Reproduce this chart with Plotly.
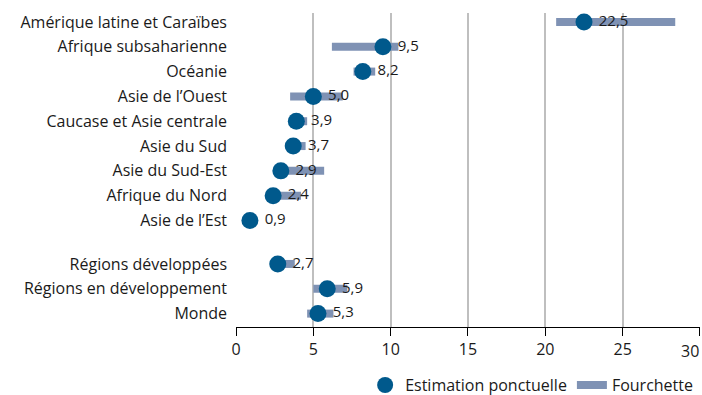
import plotly.graph_objects as go

# Regions (top to bottom), point estimates and uncertainty ranges
regions = [
    "Amérique latine et Caraïbes",
    "Afrique subsaharienne",
    "Océanie",
    "Asie de l’Ouest",
    "Caucase et Asie centrale",
    "Asie du Sud",
    "Asie du Sud-Est",
    "Afrique du Nord",
    "Asie de l’Est",
    "Régions développées",
    "Régions en développement",
    "Monde",
]
estimates = [22.5, 9.5, 8.2, 5.0, 3.9, 3.7, 2.9, 2.4, 0.9, 2.7, 5.9, 5.3]
range_low = [20.7, 6.2, 7.6, 3.5, 3.5, 3.3, 2.5, 2.0, 0.6, 2.3, 5.0, 4.6]
range_high = [28.4, 10.5, 9.0, 6.9, 4.6, 4.5, 5.7, 4.2, 1.2, 3.8, 7.2, 6.3]
x_ticks = [0, 5, 10, 15, 20, 25, 30]

# Row positions: the three aggregate rows are set apart by a small gap
N_SUB = 9
GAP = 0.75
ypos = [i if i < N_SUB else i + GAP for i in range(len(regions))]

DOT = "#00598c"
BAND = "#7f92b4"
FONT = "Open Sans"

rx, ry = [], []
for lo, hi, y in zip(range_low, range_high, ypos):
    rx += [lo, hi, None]
    ry += [y, y, None]

fig = go.Figure()
fig.add_trace(go.Scatter(
    x=rx, y=ry, mode="lines", name="Fourchette",
    line=dict(color=BAND, width=8), legendrank=2, hoverinfo="skip",
))
fig.add_trace(go.Scatter(
    x=estimates, y=ypos, mode="markers", name="Estimation ponctuelle",
    marker=dict(color=DOT, size=17), legendrank=1,
))
# value labels: an invisible, slightly larger marker pushes the text off the dot
fig.add_trace(go.Scatter(
    x=estimates, y=ypos, mode="markers+text", showlegend=False, hoverinfo="skip",
    marker=dict(color="rgba(0,0,0,0)", size=22),
    text=[f"{v:.1f}".replace(".", ",") for v in estimates],
    textposition="middle right",
    textfont=dict(size=15, color="#1a1a1a"),
))

# last tick label sits flush against the right edge, right-aligned on its tick
fig.add_annotation(
    x=x_ticks[-1], y=0, xref="x", yref="paper", text=str(x_ticks[-1]),
    showarrow=False, xanchor="right", yanchor="top", yshift=-11, xshift=1,
    font=dict(size=16, color="#1a1a1a"),
)

fig.update_layout(
    width=702, height=395,
    margin=dict(l=236, r=2, t=13, b=68, autoexpand=False),
    paper_bgcolor="white", plot_bgcolor="white",
    font=dict(family=FONT, size=16, color="#1a1a1a"),
    showlegend=True,
    legend=dict(
        orientation="h", x=0.996, xanchor="right", y=-0.185, yanchor="middle",
        font=dict(size=16), itemwidth=30, traceorder="normal",
    ),
)
fig.update_xaxes(
    range=[0, 30.001], tickvals=x_ticks, ticktext=[str(t) for t in x_ticks[:-1]] + [""],
    showgrid=True, gridcolor="#bfbfbf", gridwidth=1.5,
    zeroline=False, showline=True, linecolor="black", linewidth=1,
    ticks="outside", ticklen=8, tickcolor="black", tickfont=dict(size=16),
)
fig.update_yaxes(
    range=[max(ypos) + 0.54, -0.36], tickvals=ypos, ticktext=regions,
    showgrid=False, zeroline=False, showline=False, ticks="", ticklabelstandoff=8,
    tickfont=dict(size=16),
)

fig.write_html("out.html")
